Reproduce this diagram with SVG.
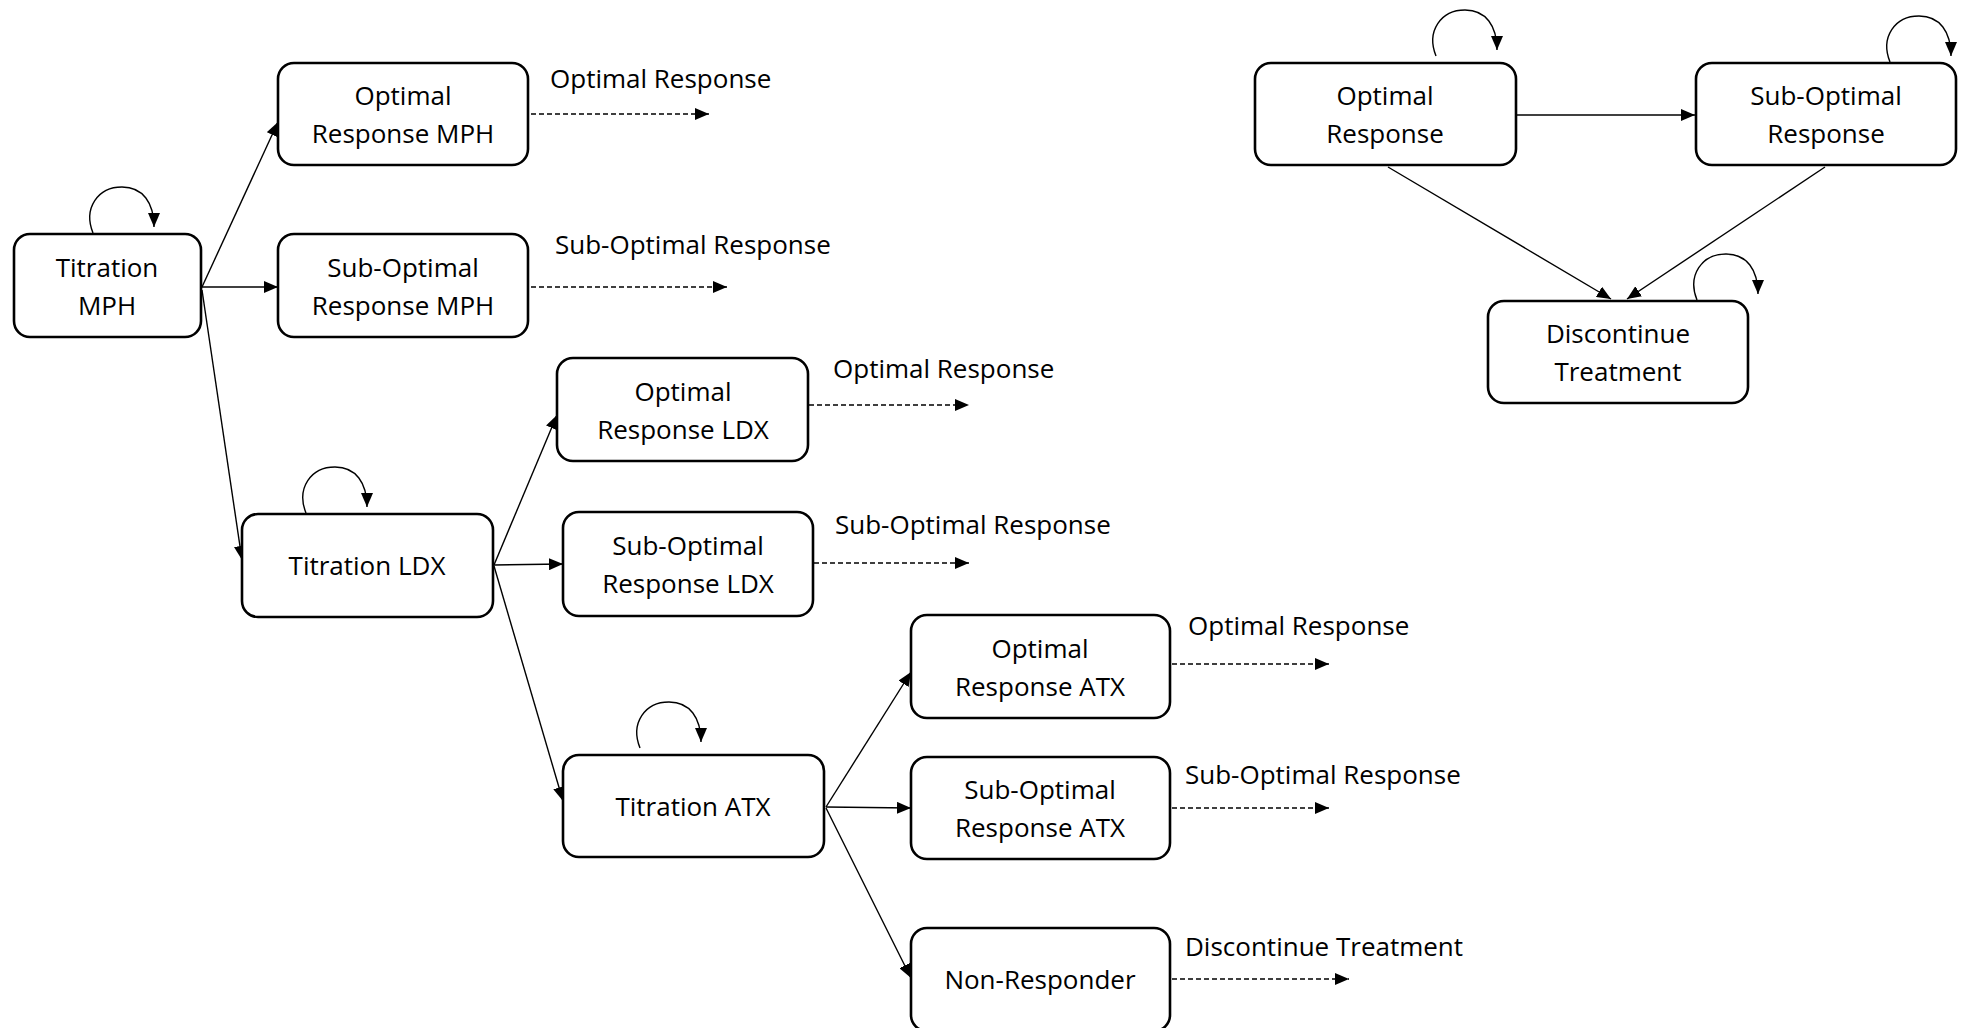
<svg xmlns="http://www.w3.org/2000/svg" width="1963" height="1028" viewBox="0 0 1963 1028">
  <style>
    .box { fill: #ffffff; stroke: #000000; stroke-width: 2.6; }
    .lbl { font-family: "Open Sans", "Liberation Sans", sans-serif; font-size: 26px; fill: #000000; }
    .mid { text-anchor: middle; }
    .edge { fill: none; stroke: #000000; stroke-width: 1.4; marker-end: url(#arrow); }
    .dash { fill: none; stroke: #000000; stroke-width: 1.4; stroke-dasharray: 5 3; marker-end: url(#arrow); }
    .loop { fill: none; stroke: #000000; stroke-width: 1.4; marker-end: url(#arrow); }
  </style>
  <defs>
    <marker id="arrow" markerUnits="userSpaceOnUse" markerWidth="14" markerHeight="12" refX="14" refY="6" orient="auto">
      <path d="M0,0 L14,6 L0,12 z" fill="#000000"/>
    </marker>
    <!-- self-transition loop, origin at the point where it leaves the box top -->
    <path id="selfLoop" d="M0 0 C-10 -25, 5 -46, 29 -46 C50 -46, 61 -30, 61 -6"/>
  </defs>
  <rect width="1963" height="1028" fill="#ffffff"/>

  <!-- connectors -->
  <g id="connectors">
    <path class="edge" d="M202 287 L278 122"/>
    <path class="edge" d="M202 287 L278 287"/>
    <path class="edge" d="M202 290 L242 560"/>
    <path class="edge" d="M494 565 L557 415"/>
    <path class="edge" d="M494 565 L563 564"/>
    <path class="edge" d="M494 566 L563 801"/>
    <path class="edge" d="M826 807 L911 672"/>
    <path class="edge" d="M826 807 L911 808"/>
    <path class="edge" d="M826 808 L911 978"/>
    <path class="edge" d="M1516 115 L1695 115"/>
    <path class="edge" d="M1388 167 L1611 299"/>
    <path class="edge" d="M1825 167 L1627 299"/>

    <path class="dash" d="M531 114 L709 114"/>
    <path class="dash" d="M531 287 L727 287"/>
    <path class="dash" d="M809 405 L969 405"/>
    <path class="dash" d="M814 563 L969 563"/>
    <path class="dash" d="M1172 664 L1329 664"/>
    <path class="dash" d="M1172 808 L1329 808"/>
    <path class="dash" d="M1172 979 L1349 979"/>

    <use href="#selfLoop" class="loop" transform="translate(93 233)"/>
    <use href="#selfLoop" class="loop" transform="translate(306 513)"/>
    <use href="#selfLoop" class="loop" transform="translate(640 748)"/>
    <use href="#selfLoop" class="loop" transform="translate(1436 56)"/>
    <use href="#selfLoop" class="loop" transform="translate(1890 62)"/>
    <use href="#selfLoop" class="loop" transform="translate(1697 300)"/>
  </g>

  <!-- outcome labels on the dashed exits -->
  <g id="exit-labels" class="lbl">
    <text x="550" y="88">Optimal Response</text>
    <text x="555" y="254">Sub-Optimal Response</text>
    <text x="833" y="378">Optimal Response</text>
    <text x="835" y="534">Sub-Optimal Response</text>
    <text x="1188" y="635">Optimal Response</text>
    <text x="1185" y="784">Sub-Optimal Response</text>
    <text x="1185" y="956">Discontinue Treatment</text>
  </g>

  <!-- treatment pathway nodes -->
  <g id="titration-mph">
    <rect class="box" x="14" y="234" width="187" height="103" rx="16"/>
    <text class="lbl mid" x="107" y="277">Titration</text>
    <text class="lbl mid" x="107" y="315">MPH</text>
  </g>
  <g id="optimal-mph">
    <rect class="box" x="278" y="63" width="250" height="102" rx="16"/>
    <text class="lbl mid" x="403" y="105">Optimal</text>
    <text class="lbl mid" x="403" y="143">Response MPH</text>
  </g>
  <g id="suboptimal-mph">
    <rect class="box" x="278" y="234" width="250" height="103" rx="16"/>
    <text class="lbl mid" x="403" y="277">Sub-Optimal</text>
    <text class="lbl mid" x="403" y="315">Response MPH</text>
  </g>
  <g id="titration-ldx">
    <rect class="box" x="242" y="514" width="251" height="103" rx="16"/>
    <text class="lbl mid" x="367" y="575">Titration LDX</text>
  </g>
  <g id="optimal-ldx">
    <rect class="box" x="557" y="358" width="251" height="103" rx="16"/>
    <text class="lbl mid" x="683" y="401">Optimal</text>
    <text class="lbl mid" x="683" y="439">Response LDX</text>
  </g>
  <g id="suboptimal-ldx">
    <rect class="box" x="563" y="512" width="250" height="104" rx="16"/>
    <text class="lbl mid" x="688" y="555">Sub-Optimal</text>
    <text class="lbl mid" x="688" y="593">Response LDX</text>
  </g>
  <g id="titration-atx">
    <rect class="box" x="563" y="755" width="261" height="102" rx="16"/>
    <text class="lbl mid" x="693" y="816">Titration ATX</text>
  </g>
  <g id="optimal-atx">
    <rect class="box" x="911" y="615" width="259" height="103" rx="16"/>
    <text class="lbl mid" x="1040" y="658">Optimal</text>
    <text class="lbl mid" x="1040" y="696">Response ATX</text>
  </g>
  <g id="suboptimal-atx">
    <rect class="box" x="911" y="757" width="259" height="102" rx="16"/>
    <text class="lbl mid" x="1040" y="799">Sub-Optimal</text>
    <text class="lbl mid" x="1040" y="837">Response ATX</text>
  </g>
  <g id="non-responder">
    <rect class="box" x="911" y="928" width="259" height="103" rx="16"/>
    <text class="lbl mid" x="1040" y="989">Non-Responder</text>
  </g>

  <!-- maintenance state nodes -->
  <g id="state-optimal">
    <rect class="box" x="1255" y="63" width="261" height="102" rx="16"/>
    <text class="lbl mid" x="1385" y="105">Optimal</text>
    <text class="lbl mid" x="1385" y="143">Response</text>
  </g>
  <g id="state-suboptimal">
    <rect class="box" x="1696" y="63" width="260" height="102" rx="16"/>
    <text class="lbl mid" x="1826" y="105">Sub-Optimal</text>
    <text class="lbl mid" x="1826" y="143">Response</text>
  </g>
  <g id="state-discontinue">
    <rect class="box" x="1488" y="301" width="260" height="102" rx="16"/>
    <text class="lbl mid" x="1618" y="343">Discontinue</text>
    <text class="lbl mid" x="1618" y="381">Treatment</text>
  </g>
</svg>
